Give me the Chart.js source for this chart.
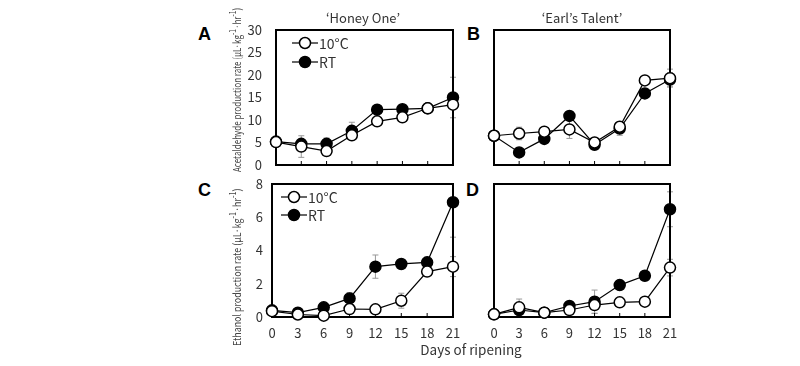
<!DOCTYPE html>
<html>
<head>
<meta charset="utf-8">
<script src="https://cdn.jsdelivr.net/npm/chart.js@4.4.0/dist/chart.umd.min.js"></script>
<style>
  body { margin: 0; background: #fff; width: 800px; height: 366px; position: relative; overflow: hidden; font-family: "Noto Sans CJK KR", "Open Sans", sans-serif; color: #333; }
  canvas { position: absolute; }
  .txt { position: absolute; white-space: nowrap; }
  .letter { font-family: "Liberation Sans", Arial, sans-serif; font-weight: bold; font-size: 18px; color: #000; }
  .ttl { font-size: 13px; transform: translate(-50%, -50%); }
  .ytitle { font-size: 11px; transform-origin: 0 0; color: #444; }
</style>
</head>
<body>
<canvas id="chartA"></canvas>
<canvas id="chartB"></canvas>
<canvas id="chartC"></canvas>
<canvas id="chartD"></canvas>

<div class="txt letter" style="left:198px;top:24px">A</div>
<div class="txt letter" style="left:467px;top:24px">B</div>
<div class="txt letter" style="left:198px;top:180px">C</div>
<div class="txt letter" style="left:466px;top:180px">D</div>
<div class="txt ttl" style="left:363px;top:17px">‘Honey One’</div>
<div class="txt ttl" style="left:582px;top:17px">‘Earl’s Talent’</div>
<div class="txt ttl" style="left:471px;top:349px;font-size:13.5px">Days of ripening</div>
<div class="txt ytitle" id="ytA">Acetaldehyde production rate (μL·kg<sup>-1</sup>·hr<sup>-1</sup>)</div>
<div class="txt ytitle" id="ytC">Ethanol production rate (μL·kg<sup>-1</sup>·hr<sup>-1</sup>)</div>

<script>
// data
const days = [0, 3, 6, 9, 12, 15, 18, 21];
const acetTicks = [0, 5, 10, 15, 20, 25, 30];
const ethTicks = [0, 2, 4, 6, 8];

const honeyAcet10 = [5.1, 4.1, 3.1, 6.6, 9.7, 10.6, 12.6, 13.4];
const honeyAcetRT = [5.2, 4.7, 4.7, 7.6, 12.3, 12.4, 12.6, 15.0];
const honeyAcet10Err = [0.3, 2.4, 0.5, 0.5, 0.5, 0.5, 0.5, 0.8];
const honeyAcetRTErr = [0.3, 0.8, 1.3, 1.9, 0.5, 0.5, 0.5, 4.5];

const earlAcet10 = [6.5, 7.0, 7.4, 7.9, 5.0, 8.5, 18.8, 19.3];
const earlAcetRT = [6.5, 2.8, 5.8, 10.9, 4.5, 8.1, 15.9, 19.0];
const earlAcet10Err = [0.3, 1.4, 0.6, 2.0, 0.5, 0.5, 0.5, 2.0];
const earlAcetRTErr = [0.3, 0.5, 0.5, 0.5, 0.5, 1.5, 0.5, 1.5];

const honeyEth10 = [0.35, 0.15, 0.08, 0.48, 0.46, 0.98, 2.73, 3.03];
const honeyEthRT = [0.40, 0.26, 0.58, 1.12, 3.03, 3.19, 3.29, 6.90];
const honeyEth10Err = [0.05, 0.05, 0.05, 0.1, 0.1, 0.45, 0.2, 0.6];
const honeyEthRTErr = [0.05, 0.05, 0.1, 0.35, 0.7, 0.1, 0.3, 2.1];

const earlEth10 = [0.16, 0.58, 0.26, 0.42, 0.72, 0.88, 0.92, 2.97];
const earlEthRT = [0.16, 0.42, 0.26, 0.66, 0.92, 1.92, 2.48, 6.48];
const earlEth10Err = [0.05, 0.5, 0.05, 0.15, 0.5, 0.1, 0.1, 0.5];
const earlEthRTErr = [0.05, 0.1, 0.05, 0.1, 0.7, 0.1, 0.1, 1.05];

const seriesNames = ['10°C', 'RT'];
const fontFamily = '"Noto Sans CJK KR", "Open Sans", sans-serif';

function points(vals) {
    return days.map((d, i) => ({x: d, y: vals[i]}));
}

function makeDataset(label, vals, errs, fill) {
    return {
        label: label,
        data: points(vals),
        errs: errs,
        borderColor: '#000',
        borderWidth: 1.2,
        pointRadius: 5.5,
        pointBorderWidth: 1.5,
        pointBorderColor: '#000',
        pointBackgroundColor: fill,
        tension: 0,
        clip: false
    };
}

// box, inner ticks and error bars, under the marks
const framePlugin = {
    id: 'frame',
    beforeDatasetsDraw(chart) {
        const ctx = chart.ctx;
        const a = chart.chartArea;
        const xs = chart.scales.x;
        const ys = chart.scales.y;
        ctx.save();
        // error bars
        ctx.strokeStyle = '#999';
        ctx.lineWidth = 1;
        chart.data.datasets.forEach(ds => {
            ds.data.forEach((p, i) => {
                const e = ds.errs[i];
                const px = xs.getPixelForValue(p.x);
                const top = Math.max(ys.getPixelForValue(p.y + e), a.top);
                const bot = Math.min(ys.getPixelForValue(p.y - e), a.bottom);
                ctx.beginPath();
                ctx.moveTo(px, top); ctx.lineTo(px, bot);
                if (ys.getPixelForValue(p.y + e) >= a.top) { ctx.moveTo(px - 3, top); ctx.lineTo(px + 3, top); }
                ctx.moveTo(px - 3, bot); ctx.lineTo(px + 3, bot);
                ctx.stroke();
            });
        });
        // inner x ticks
        ctx.strokeStyle = '#000';
        ctx.lineWidth = 1;
        days.forEach(d => {
            const px = xs.getPixelForValue(d);
            ctx.beginPath();
            ctx.moveTo(px, a.bottom); ctx.lineTo(px, a.bottom - 4);
            ctx.stroke();
        });
        ctx.lineWidth = 2;
        ctx.strokeRect(a.left, a.top, a.right - a.left, a.bottom - a.top);
        ctx.restore();
    },
    afterDatasetsDraw(chart, args, opts) {
        if (!opts.legend) return;
        const ctx = chart.ctx;
        const a = chart.chartArea;
        const lg = opts.legend;
        ctx.save();
        chart.data.datasets.forEach((ds, i) => {
            const x0 = a.left + lg.dx;
            const y0 = a.top + lg.dy + i * lg.gap;
            ctx.strokeStyle = '#000';
            ctx.lineWidth = 1.2;
            ctx.beginPath();
            ctx.moveTo(x0, y0); ctx.lineTo(x0 + lg.len, y0);
            ctx.stroke();
            ctx.beginPath();
            ctx.arc(x0 + lg.len / 2, y0, 5.5, 0, Math.PI * 2);
            ctx.fillStyle = ds.pointBackgroundColor;
            ctx.fill();
            ctx.lineWidth = 1.5;
            ctx.stroke();
            ctx.fillStyle = '#333';
            ctx.font = '14px ' + fontFamily;
            ctx.textBaseline = 'middle';
            ctx.fillText(ds.label, x0 + lg.len + 1, y0 + 1);
        });
        ctx.restore();
    }
};

function makeChart(id, box, vals10, valsRT, err10, errRT, yTicks, opts) {
    const canvas = document.getElementById(id);
    canvas.style.left = box.left + 'px';
    canvas.style.top = box.top + 'px';
    canvas.style.width = box.width + 'px';
    canvas.style.height = box.height + 'px';
    canvas.width = box.width;
    canvas.height = box.height;
    return new Chart(canvas, {
        type: 'line',
        data: {
            datasets: [
                makeDataset(seriesNames[0], vals10, err10, '#fff'),
                makeDataset(seriesNames[1], valsRT, errRT, '#000')
            ]
        },
        options: {
            responsive: false,
            animation: false,
            layout: {padding: {top: opts.padTop, right: opts.padRight, left: 0, bottom: 0}},
            plugins: {
                legend: {display: false},
                tooltip: {enabled: false},
                frame: {legend: opts.legend}
            },
            scales: {
                x: {
                    type: 'linear',
                    min: 0, max: 21,
                    grid: {display: false},
                    border: {display: false},
                    afterBuildTicks: s => { s.ticks = days.map(v => ({value: v})); },
                    ticks: {display: opts.xLabels, color: '#333', padding: 0, font: {family: fontFamily, size: 13}},
                    afterFit: s => { s.height = opts.xHeight; s.paddingLeft = 0; s.paddingRight = 0; }
                },
                y: {
                    min: yTicks[0], max: yTicks[yTicks.length - 1],
                    grid: {display: false},
                    border: {display: false},
                    afterBuildTicks: s => { s.ticks = yTicks.map(v => ({value: v})); },
                    ticks: {display: opts.yLabels, color: '#333', padding: opts.yPad, font: {family: fontFamily, size: 13}},
                    afterFit: s => { s.width = opts.yWidth; s.paddingTop = 0; s.paddingBottom = 0; }
                }
            }
        },
        plugins: [framePlugin]
    });
}

makeChart('chartA', {left: 236, top: 22, width: 224, height: 150}, honeyAcet10, honeyAcetRT, honeyAcet10Err, honeyAcetRTErr, acetTicks,
    {padTop: 8, padRight: 5, xHeight: 5, yWidth: 40, xLabels: false, yLabels: true, yPad: 6,
     legend: {dx: 16, dy: 13, gap: 19, len: 26}});
makeChart('chartB', {left: 487, top: 22, width: 190, height: 150}, earlAcet10, earlAcetRT, earlAcet10Err, earlAcetRTErr, acetTicks,
    {padTop: 8, padRight: 5, xHeight: 5, yWidth: 5, xLabels: false, yLabels: false, yPad: 0, legend: null});
makeChart('chartC', {left: 232, top: 176, width: 228, height: 164}, honeyEth10, honeyEthRT, honeyEth10Err, honeyEthRTErr, ethTicks,
    {padTop: 8, padRight: 5, xHeight: 23, yWidth: 40, xLabels: true, yLabels: true, yPad: 1,
     legend: {dx: 9, dy: 13, gap: 18, len: 26}});
makeChart('chartD', {left: 487, top: 176, width: 190, height: 164}, earlEth10, earlEthRT, earlEth10Err, earlEthRTErr, ethTicks,
    {padTop: 8, padRight: 5, xHeight: 23, yWidth: 5, xLabels: true, yLabels: false, yPad: 0, legend: null});

// rotated axis titles, squeezed to the length seen in the figure
function placeYTitle(id, cx, y1, y2) {
    const el = document.getElementById(id);
    const w = el.offsetWidth;
    const h = el.offsetHeight;
    const sx = (y2 - y1) / w;
    el.style.left = (cx - h / 2) + 'px';
    el.style.top = y2 + 'px';
    el.style.transform = 'rotate(-90deg) scale(' + sx + ', 1)';
}
placeYTitle('ytA', 234, 8, 172);
placeYTitle('ytC', 234, 188, 346);
</script>
</body>
</html>
